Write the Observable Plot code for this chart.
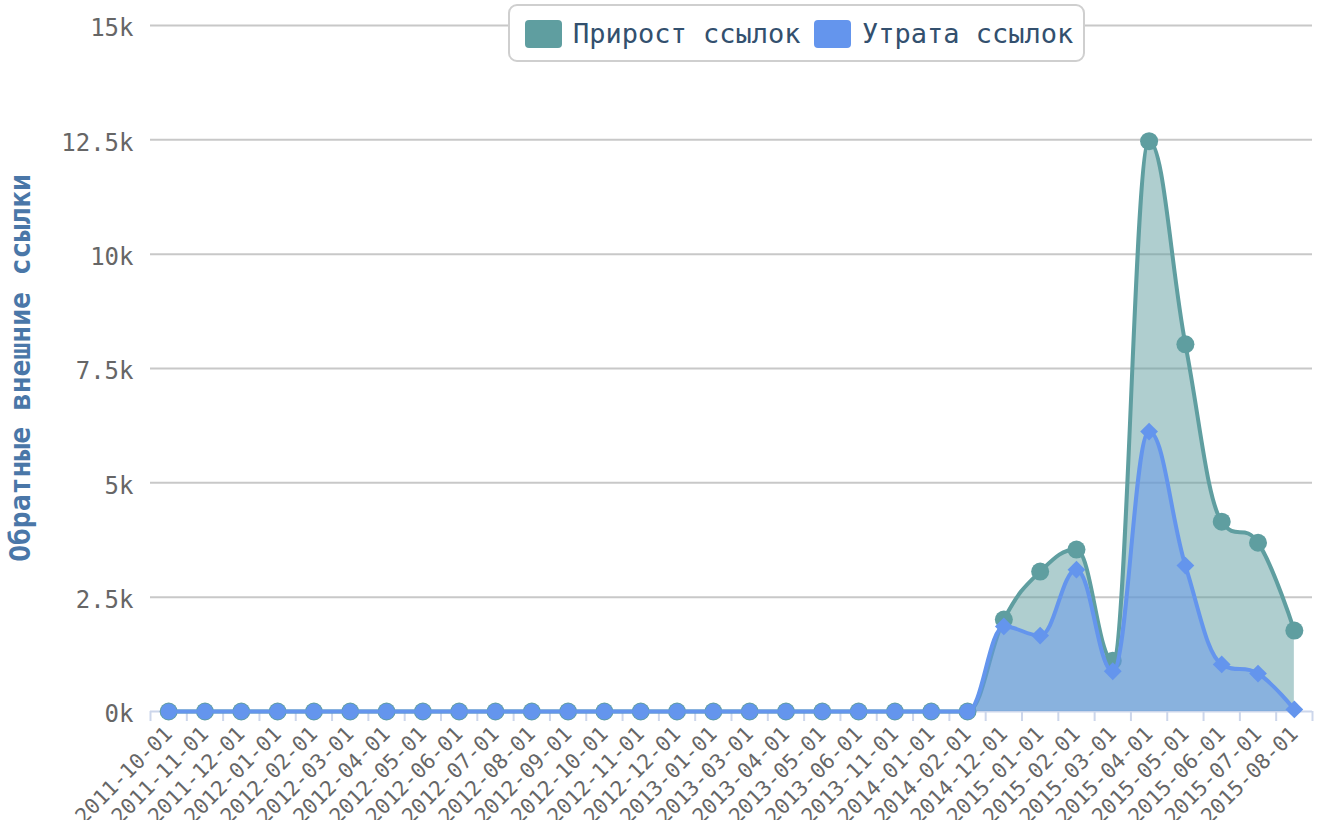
<!DOCTYPE html>
<html>
<head>
<meta charset="utf-8">
<script src="https://cdn.jsdelivr.net/npm/d3@7"></script>
<script src="https://cdn.jsdelivr.net/npm/@observablehq/plot@0.6"></script>
<style>
  html, body { margin: 0; padding: 0; background: #fff; }
  #wrap { position: relative; width: 1320px; height: 820px; overflow: hidden; font-family: "DejaVu Sans Mono", monospace; }
  #chart { position: absolute; left: 0; top: 0; }
  #legend { position: absolute; left: 508px; top: 4px; width: 573px; height: 54px; border: 2px solid #cfcfcf; border-radius: 9px; background: #fff; }
  .sw { position: absolute; top: 14px; width: 37px; height: 28px; border-radius: 4px; }
  .lt { position: absolute; top: 11px; font-size: 27px; line-height: 34px; color: #33506e; white-space: pre; }
  #ytitle { position: absolute; left: 20px; top: 368px; transform: translate(-50%, -50%) rotate(-90deg); font-size: 28px; font-weight: bold; color: #4a77a8; white-space: pre; }
</style>
</head>
<body>
<div id="wrap">
  <div id="chart"></div>
  <div id="ytitle"></div>
  <div id="legend"></div>
</div>
<script>
// ---- data ----
const categories = [
  "2011-10-01","2011-11-01","2011-12-01","2012-01-01","2012-02-01","2012-03-01",
  "2012-04-01","2012-05-01","2012-06-01","2012-07-01","2012-08-01","2012-09-01",
  "2012-10-01","2012-11-01","2012-12-01","2013-01-01","2013-03-01","2013-04-01",
  "2013-05-01","2013-06-01","2013-11-01","2014-01-01","2014-02-01","2014-12-01",
  "2015-01-01","2015-02-01","2015-03-01","2015-04-01","2015-05-01","2015-06-01",
  "2015-07-01","2015-08-01"
];
const growth = [
  0,0,0,0,0,0,0,0,0,0,0,0,0,0,0,0,0,0,0,0,0,0,0,
  2010,3060,3540,1110,12470,8030,4150,3690,1770
];
const loss = [
  0,0,0,0,0,0,0,0,0,0,0,0,0,0,0,0,0,0,0,0,0,0,0,
  1860,1660,3100,880,6120,3190,1030,830,45
];
const seriesNames = ["Прирост ссылок", "Утрата ссылок"];
const seriesColors = ["#5F9EA0", "#6495ED"];
const yTicks = [0, 2500, 5000, 7500, 10000, 12500, 15000];
const yTickLabels = ["0k", "2.5k", "5k", "7.5k", "10k", "12.5k", "15k"];
const yTitle = "Обратные внешние ссылки";

// ---- Highcharts-like spline curve ----
function HCSpline(context) { this._context = context; }
HCSpline.prototype = {
  areaStart() { this._line = 0; },
  areaEnd() { this._line = NaN; },
  lineStart() { this._pts = []; },
  point(x, y) { this._pts.push([+x, +y]); },
  lineEnd() {
    const p = this._pts, n = p.length, c = this._context, s = 1.5, den = s + 1;
    if (n) {
      if (this._line) c.lineTo(p[0][0], p[0][1]); else c.moveTo(p[0][0], p[0][1]);
      const lc = new Array(n), rc = new Array(n);
      for (let i = 1; i < n - 1; i++) {
        const [x, y] = p[i], [lx, ly] = p[i - 1], [nx, ny] = p[i + 1];
        let lcx = (s * x + lx) / den, lcy = (s * y + ly) / den;
        let rcx = (s * x + nx) / den, rcy = (s * y + ny) / den;
        let corr = 0;
        if (rcx !== lcx) corr = ((rcy - lcy) * (rcx - x)) / (rcx - lcx) + y - rcy;
        lcy += corr; rcy += corr;
        if (lcy > ly && lcy > y) { lcy = Math.max(ly, y); rcy = 2 * y - lcy; }
        else if (lcy < ly && lcy < y) { lcy = Math.min(ly, y); rcy = 2 * y - lcy; }
        if (rcy > ny && rcy > y) { rcy = Math.max(ny, y); lcy = 2 * y - rcy; }
        else if (rcy < ny && rcy < y) { rcy = Math.min(ny, y); lcy = 2 * y - rcy; }
        lc[i] = [lcx, lcy]; rc[i] = [rcx, rcy];
      }
      for (let i = 1; i < n; i++) {
        const a = rc[i - 1] || p[i - 1], b = lc[i] || p[i];
        c.bezierCurveTo(a[0], a[1], b[0], b[1], p[i][0], p[i][1]);
      }
    }
    if (this._line || (this._line !== 0 && n === 1)) c.closePath();
    this._line = 1 - this._line;
  }
};
const curveHC = (ctx) => new HCSpline(ctx);

// ---- build ----
const rows = categories.map((c, i) => ({ i, c, growth: growth[i], loss: loss[i] }));
const idx = categories.map((_, i) => i);
const bounds = d3.range(categories.length + 1).map((i) => i - 0.5);

const chart = Plot.plot({
  width: 1320,
  height: 820,
  marginLeft: 150,
  marginRight: 8,
  marginTop: 25,
  marginBottom: 109,
  style: { fontFamily: "DejaVu Sans Mono", background: "transparent", color: "#666" },
  x: { type: "linear", domain: [-0.5, categories.length - 0.5], label: null },
  y: { domain: [0, 15000], label: null },
  marks: [
    Plot.gridY(yTicks.filter((v) => v > 0), { stroke: "#c8c8c8", strokeOpacity: 1, strokeWidth: 2 }),
    Plot.ruleY([0], { stroke: "#ccd6eb", strokeWidth: 2 }),
    Plot.axisY(yTicks, {
      label: null, tickSize: 0, tickPadding: 17, fontSize: 24, fill: "#666", dy: 3,
      tickFormat: (v) => yTickLabels[yTicks.indexOf(v)]
    }),
    Plot.axisX(bounds, { label: null, tickSize: 10, stroke: "#ccd6eb", strokeWidth: 2, tickFormat: () => "" }),
    Plot.axisX(idx, {
      label: null, tickSize: 0, tickPadding: 19, tickRotate: -45, fontSize: 21, fill: "#666",
      tickFormat: (i) => categories[i]
    }),
    Plot.areaY(rows, { x: "i", y: "growth", fill: seriesColors[0], fillOpacity: 0.5, curve: curveHC }),
    Plot.lineY(rows, { x: "i", y: "growth", stroke: seriesColors[0], strokeWidth: 4, curve: curveHC }),
    Plot.dot(rows, { x: "i", y: "growth", r: 9, fill: seriesColors[0] }),
    Plot.areaY(rows, { x: "i", y: "loss", fill: seriesColors[1], fillOpacity: 0.5, curve: curveHC }),
    Plot.lineY(rows, { x: "i", y: "loss", stroke: seriesColors[1], strokeWidth: 4, curve: curveHC }),
    Plot.dot(rows, { filter: (d) => d.loss === 0, x: "i", y: "loss", r: 8, fill: seriesColors[1] }),
    Plot.dot(rows, { filter: (d) => d.loss !== 0, x: "i", y: "loss", r: 8, symbol: "diamond2", fill: seriesColors[1] })
  ]
});
document.getElementById("chart").appendChild(chart);

document.getElementById("ytitle").textContent = yTitle;
const legend = document.getElementById("legend");
const swLeft = [15, 304], txLeft = [63, 352];
seriesNames.forEach((name, k) => {
  const sw = document.createElement("div");
  sw.className = "sw";
  sw.style.left = swLeft[k] + "px";
  sw.style.background = seriesColors[k];
  legend.appendChild(sw);
  const t = document.createElement("div");
  t.className = "lt";
  t.style.left = txLeft[k] + "px";
  t.textContent = name;
  legend.appendChild(t);
});
</script>
</body>
</html>
